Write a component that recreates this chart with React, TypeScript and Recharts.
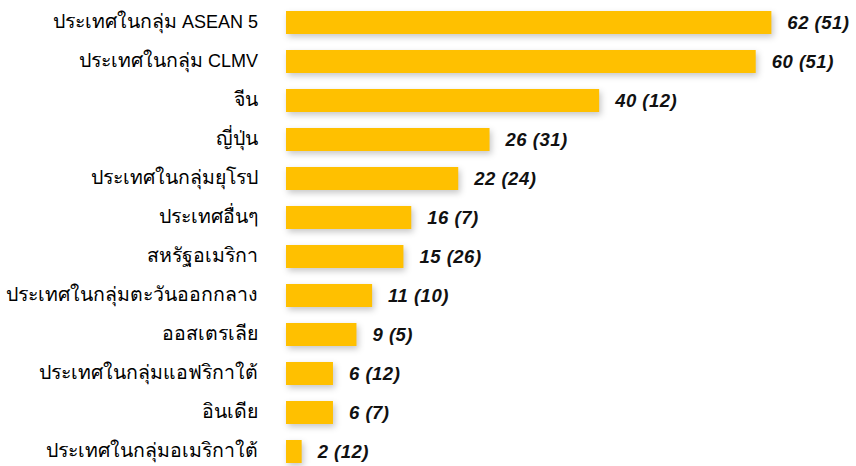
import React from 'react';
import { BarChart, Bar, XAxis, YAxis, LabelList } from 'recharts';

const categories = [
  'ประเทศในกลุ่ม ASEAN 5',
  'ประเทศในกลุ่ม CLMV',
  'จีน',
  'ญี่ปุ่น',
  'ประเทศในกลุ่มยุโรป',
  'ประเทศอื่นๆ',
  'สหรัฐอเมริกา',
  'ประเทศในกลุ่มตะวันออกกลาง',
  'ออสเตรเลีย',
  'ประเทศในกลุ่มแอฟริกาใต้',
  'อินเดีย',
  'ประเทศในกลุ่มอเมริกาใต้',
];
const values = [62, 60, 40, 26, 22, 16, 15, 11, 9, 6, 6, 2];
const prevValues = [51, 51, 12, 31, 24, 7, 26, 10, 5, 12, 7, 12];

const data = categories.map((name, i) => ({
  name,
  value: values[i],
  label: `${values[i]} (${prevValues[i]})`,
}));

const FONT = 'Arial, "Liberation Sans", sans-serif';

const splitRuns = (s: string) => {
  const runs: { text: string; thai: boolean }[] = [];
  for (const ch of s) {
    const thai = /[\u0E00-\u0E7F]/.test(ch);
    const last = runs[runs.length - 1];
    if (last && last.thai === thai) last.text += ch;
    else runs.push({ text: ch, thai });
  }
  return runs;
};

const CategoryTick = (props: any) => {
  const { x, y, payload } = props;
  const runs = splitRuns(String(payload.value));
  return (
    <text x={x} y={y} dy="0.355em" textAnchor="end" fill="#000" fontFamily={FONT}>
      {runs.map((r, i) => (
        <tspan key={i} fontSize={r.thai ? 19.5 : 18}>
          {r.text}
        </tspan>
      ))}
    </text>
  );
};

const ShadowBar = (props: any) => {
  const { x, y, width, height, fill } = props;
  if (width <= 0) return null;
  return (
    <rect
      x={x}
      y={y}
      width={width}
      height={height}
      fill={fill}
      style={{ filter: 'drop-shadow(2px 3px 3px rgba(0,0,0,0.22))' }}
    />
  );
};

export default function App() {
  return (
    <div style={{ position: 'absolute', left: 0, top: 0 }}>
      <BarChart
        width={856}
        height={471}
        data={data}
        layout="vertical"
        margin={{ top: 3, right: 22, bottom: 0, left: 0 }}
      >
        <XAxis type="number" domain={[0, 70]} hide />
        <YAxis
          type="category"
          dataKey="name"
          width={286}
          axisLine={false}
          tickLine={false}
          tickMargin={22}
          interval={0}
          tick={<CategoryTick />}
        />
        <Bar
          dataKey="value"
          fill="#FFC000"
          barSize={23}
          isAnimationActive={false}
          shape={ShadowBar}
        >
          <LabelList
            dataKey="label"
            position="right"
            offset={16}
            style={{
              fill: '#111',
              fontSize: 18.5,
              fontWeight: 'bold',
              fontStyle: 'italic',
              letterSpacing: '0.5px',
              fontFamily: FONT,
            }}
          />
        </Bar>
      </BarChart>
    </div>
  );
}
